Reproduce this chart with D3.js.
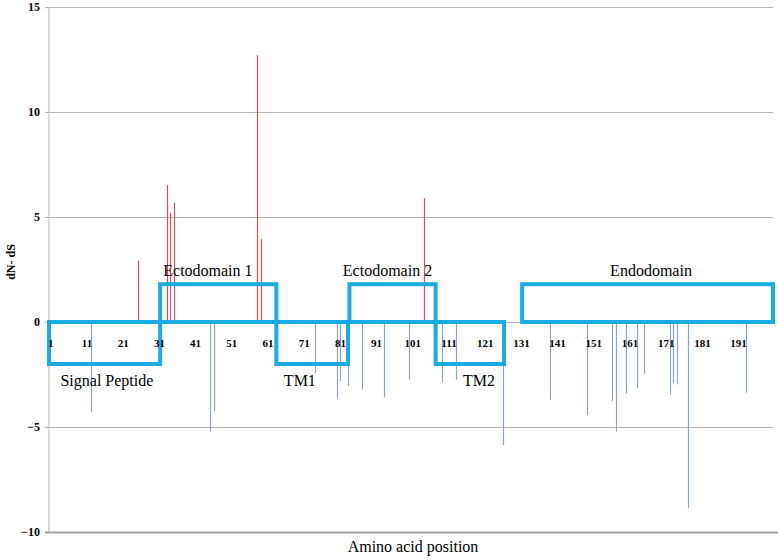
<!DOCTYPE html>
<html>
<head>
    <meta charset="utf-8">
    <title>dN - dS by amino acid position</title>
    <script src="https://cdn.jsdelivr.net/npm/d3@7/dist/d3.min.js"></script>
    <style>
        body { margin: 0; background: #fff; }
        .serif { font-family: 'Liberation Serif', 'Times New Roman', serif; }
    </style>
</head>
<body>
<script>
// amino acid positions with a non-zero dN - dS and their values
var positions = [12, 25, 33, 34, 35, 45, 46, 58, 59, 74, 80, 81, 83, 87, 93, 100, 104,
    109, 113, 126, 139, 149, 156, 157, 160, 163, 165, 172, 173, 174, 177, 193];
var values = [-4.27, 2.92, 6.52, 5.2, 5.68, -5.22, -4.24, 12.7, 3.94, -2.41, -3.63, -2.81, -3.05, -3.21, -3.6, -2.73, 5.89,
    -2.89, -2.76, -5.86, -3.71, -4.43, -3.76, -5.22, -3.4, -3.14, -2.46, -3.48, -2.92, -2.97, -8.84, -3.37];

// protein domains (start/end on the position axis, top/bottom on the dN - dS axis)
var domainNames = ['Signal Peptide', 'Ectodomain 1', 'TM1', 'Ectodomain 2', 'TM2', 'Endodomain'];
var domainStart = [0, 30.7, 62.8, 83.0, 106.8, 130.7];
var domainEnd = [30.7, 62.8, 82.6, 106.8, 125.7, 200];
var domainTop = [0, 1.8, 0, 1.8, 0, 1.8];
var domainBottom = [-2, 0, -2, 0, -2, 0];
var domainLabelAt = [16.0, 43.9, 69.3, 93.5, 118.8, 166.3];

var xTickLabels = d3.range(1, 200, 10);
var yTickValues = [-10, -5, 0, 5, 10, 15];

var width = 778,
    height = 560;
var margin = {top: 7, right: 5, bottom: 28, left: 49};

var svg = d3.select('body').append('svg')
    .attr('width', width)
    .attr('height', height);

var x = d3.scaleLinear().domain([0, 200]).range([margin.left, width - margin.right]);
var y = d3.scaleLinear().domain([-10, 15]).range([height - margin.bottom, margin.top]);

// gridlines + y axis
var yAxis = d3.axisLeft(y).tickValues(yTickValues)
    .tickSize(-(width - margin.right - margin.left))
    .tickPadding(9)
    .tickFormat(d3.format('d'));
var gy = svg.append('g').attr('transform', 'translate(' + margin.left + ',0)').call(yAxis);
gy.attr('font-family', null);
gy.select('.domain').remove();
gy.selectAll('.tick line').attr('stroke', '#b4b4b4').attr('x1', -4);
gy.selectAll('.tick text')
    .attr('class', 'serif')
    .attr('font-size', 12)
    .attr('font-weight', 'bold');
gy.selectAll('.tick').filter(function(d) { return d === -10; }).select('line')
    .attr('stroke', '#a0a0a0').attr('stroke-width', 2)
    .attr('x2', width - margin.left);
svg.append('line')
    .attr('x1', margin.left).attr('x2', margin.left)
    .attr('y1', y(15)).attr('y2', y(-10))
    .attr('stroke', '#b4b4b4');

// bars
svg.append('g').selectAll('line')
    .data(positions)
    .enter().append('line')
    .attr('x1', function(d) { return Math.round(x(d - 0.5)) + 0.5; })
    .attr('x2', function(d) { return Math.round(x(d - 0.5)) + 0.5; })
    .attr('y1', y(0))
    .attr('y2', function(d, i) { return y(values[i]); })
    .attr('stroke', function(d, i) { return values[i] > 0 ? '#d9505a' : '#8ea6c4'; })
    .attr('stroke-width', 1.2);

// domain boxes
svg.append('g').selectAll('rect')
    .data(domainNames)
    .enter().append('rect')
    .attr('x', function(d, i) { return x(domainStart[i]); })
    .attr('y', function(d, i) { return y(domainTop[i]); })
    .attr('width', function(d, i) { return x(domainEnd[i]) - x(domainStart[i]); })
    .attr('height', function(d, i) { return y(domainBottom[i]) - y(domainTop[i]); })
    .attr('fill', 'none')
    .attr('stroke', '#1aabe3')
    .attr('stroke-width', 4);

svg.append('g').selectAll('text')
    .data(domainNames)
    .enter().append('text')
    .attr('class', 'serif')
    .attr('x', function(d, i) { return x(domainLabelAt[i]); })
    .attr('y', function(d, i) { return domainTop[i] > 0 ? y(domainTop[i]) - 8 : y(domainBottom[i]) + 22; })
    .attr('text-anchor', 'middle')
    .attr('font-size', 16)
    .text(function(d) { return d; });

// x tick labels
svg.append('g').selectAll('text')
    .data(xTickLabels)
    .enter().append('text')
    .attr('class', 'serif')
    .attr('x', function(d) { return x(d - 0.5); })
    .attr('y', y(0) + 25)
    .attr('text-anchor', 'middle')
    .attr('font-size', 11)
    .attr('font-weight', 'bold')
    .text(function(d) { return d; });

// axis titles
svg.append('text')
    .attr('class', 'serif')
    .attr('x', 413)
    .attr('y', height - 8)
    .attr('text-anchor', 'middle')
    .attr('font-size', 16)
    .text('Amino acid position');

svg.append('text')
    .attr('class', 'serif')
    .attr('transform', 'translate(15,' + (y(0) - 60) + ') rotate(-90)')
    .attr('text-anchor', 'middle')
    .attr('font-size', 12)
    .attr('font-weight', 'bold')
    .text('dN- dS');
</script>
</body>
</html>
